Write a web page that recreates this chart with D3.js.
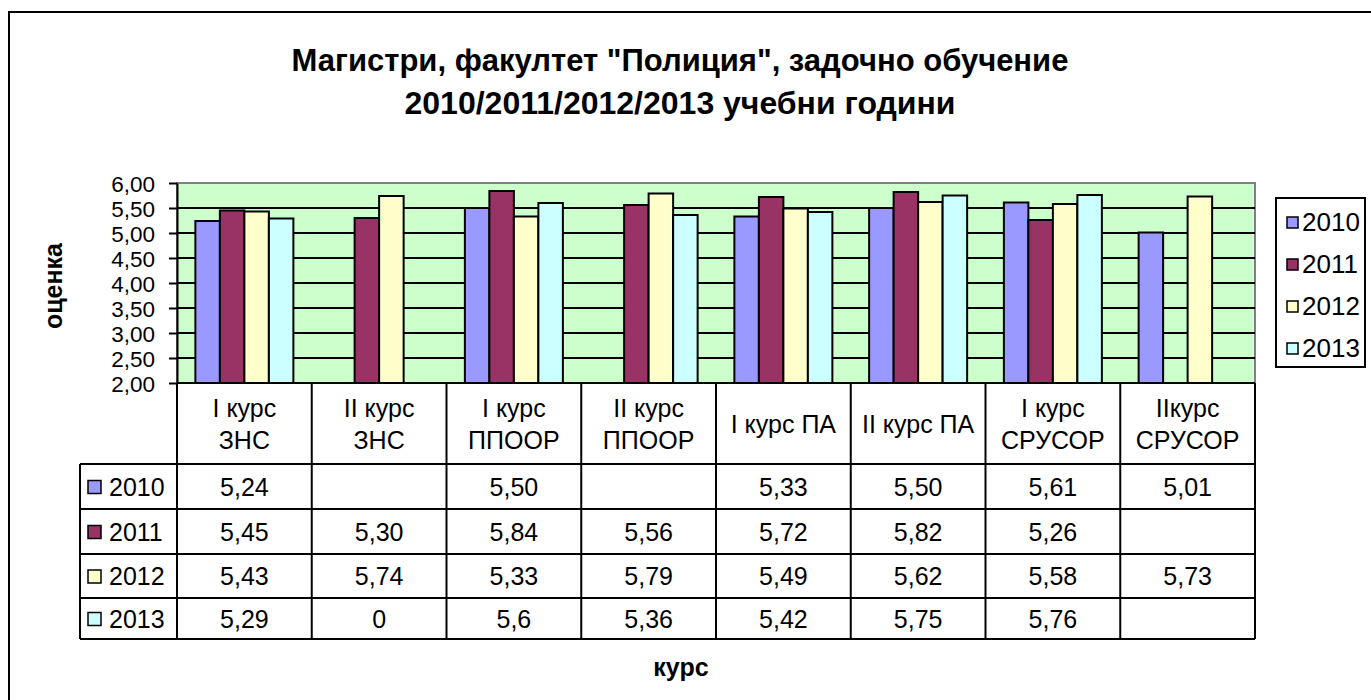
<!DOCTYPE html>
<html><head><meta charset="utf-8">
<script src="https://cdn.jsdelivr.net/npm/d3@7"></script>
<style>body{margin:0;background:#fff}svg{display:block}text{font-family:"Liberation Sans",Arial,sans-serif}</style>
</head><body>
<svg id="c" width="1371" height="700"></svg>
<script>
const categories = ["I курс ЗНС","II курс ЗНС","I курс ППООР","II курс ППООР","I курс ПА","II курс ПА","I курс СРУСОР","IIкурс СРУСОР"];
const categoryLines = [["I курс","ЗНС"],["II курс","ЗНС"],["I курс","ППООР"],["II курс","ППООР"],["I курс ПА"],["II курс ПА"],["I курс","СРУСОР"],["IIкурс","СРУСОР"]];
const seriesNames = ["2010","2011","2012","2013"];
const values2010 = [5.24, null, 5.50, null, 5.33, 5.50, 5.61, 5.01];
const values2011 = [5.45, 5.30, 5.84, 5.56, 5.72, 5.82, 5.26, null];
const values2012 = [5.43, 5.74, 5.33, 5.79, 5.49, 5.62, 5.58, 5.73];
const values2013 = [5.29, 0, 5.6, 5.36, 5.42, 5.75, 5.76, null];
const seriesFormats = ["fixed2","fixed2","fixed2","general"];
const seriesColors = ["#9999FF","#993366","#FFFFCC","#CCFFFF"];
const yTicks = [2.0,2.5,3.0,3.5,4.0,4.5,5.0,5.5,6.0];
const titleLines = ["Магистри, факултет \"Полиция\", задочно обучение","2010/2011/2012/2013 учебни години"];
const yTitle = "оценка";
const xTitle = "курс";

const seriesValues = [values2010, values2011, values2012, values2013];
const svg = d3.select("#c");

// outer chart frame (clipped by the picture)
svg.append("rect").attr("x",9).attr("y",12).attr("width",1400).attr("height",720)
  .attr("fill","#fff").attr("stroke","#000").attr("stroke-width",2);

const L=177, R=1255, T=183, B=383;
const x = d3.scaleBand().domain(categories).range([L,R]).padding(0);
const xs = d3.scaleBand().domain(seriesNames).range([0,x.bandwidth()]).paddingInner(0).paddingOuter(0.75);
const y = d3.scaleLinear().domain([2,6]).range([B,T]);

// title
svg.append("g").selectAll("text").data(titleLines).join("text")
  .attr("x",680).attr("y",(d,i)=>71+i*43).attr("text-anchor","middle")
  .attr("font-size",(d,i)=>i===0?31:32).attr("font-weight","bold").text(d=>d);

// plot area
svg.append("rect").attr("x",L).attr("y",T).attr("width",R-L).attr("height",B-T)
  .attr("fill","#CCFFCC").attr("stroke","#808080").attr("stroke-width",2);
svg.append("g").selectAll("line").data(yTicks.filter(t=>t>2&&t<6)).join("line")
  .attr("x1",L).attr("x2",R).attr("y1",d=>y(d)).attr("y2",d=>y(d))
  .attr("stroke","#000").attr("stroke-width",2);

// bars
const fmt2 = d3.format(".2f");
const fmtVal = (v,i)=> v==null ? "" : (seriesFormats[i]==="fixed2" ? fmt2(v) : String(v)).replace(".",",");
seriesNames.forEach((s,si)=>{
  svg.append("g").selectAll("rect")
    .data(categories.map((c,ci)=>({c,v:seriesValues[si][ci]})).filter(d=>d.v!=null && d.v>2))
    .join("rect")
    .attr("x",d=>x(d.c)+xs(s)).attr("width",xs.bandwidth())
    .attr("y",d=>y(d.v)).attr("height",d=>y(2)-y(d.v))
    .attr("fill",seriesColors[si]).attr("stroke","#000").attr("stroke-width",2);
});

// y axis
const yAxis = d3.axisLeft(y).tickValues(yTicks).tickSize(8).tickSizeOuter(0)
  .tickFormat(d=>fmt2(d).replace(".",","));
const ga = svg.append("g").attr("transform",`translate(${L},0)`).call(yAxis);
ga.select(".domain").attr("stroke","#000").attr("stroke-width",2);
ga.selectAll(".tick line").attr("stroke","#000").attr("stroke-width",2);
ga.selectAll(".tick text").attr("font-size",22.5).attr("fill","#000").attr("x",-22).attr("dy","0.36em")
  .attr("font-family","'Liberation Sans',Arial,sans-serif");

// x axis line
svg.append("line").attr("x1",L).attr("x2",R).attr("y1",B).attr("y2",B).attr("stroke","#000").attr("stroke-width",2);

// data table
const rowLines = [464, 509, 554, 598, 639], keyLeft = 80;
const tableTop = rowLines[0], tableBottom = rowLines[4];
const bounds = categories.map(c=>x(c)).concat([R]);
svg.append("g").selectAll("line").data(bounds).join("line")
  .attr("x1",d=>d).attr("x2",d=>d).attr("y1",B).attr("y2",tableBottom)
  .attr("stroke","#000").attr("stroke-width",2);
svg.append("line").attr("x1",keyLeft).attr("x2",keyLeft).attr("y1",tableTop).attr("y2",tableBottom).attr("stroke","#000").attr("stroke-width",2);
svg.append("g").selectAll("line").data(rowLines).join("line")
  .attr("x1",keyLeft).attr("x2",R).attr("y1",d=>d).attr("y2",d=>d)
  .attr("stroke","#000").attr("stroke-width",2);

// header labels
categories.forEach((c,ci)=>{
  const lines = categoryLines[ci];
  const cy = (B+tableTop)/2;
  svg.append("g").selectAll("text").data(lines).join("text")
    .attr("x",x(c)+x.bandwidth()/2)
    .attr("y",(d,i)=>cy + (i-(lines.length-1)/2)*32)
    .attr("dy","0.36em").attr("text-anchor","middle").attr("font-size",25).text(d=>d);
});

// rows
seriesNames.forEach((s,si)=>{
  const cy = (rowLines[si]+rowLines[si+1])/2;
  svg.append("rect").attr("x",88).attr("y",cy-6).attr("width",13).attr("height",13)
    .attr("fill",seriesColors[si]).attr("stroke","#000").attr("stroke-width",1.5);
  svg.append("text").attr("x",109).attr("y",cy).attr("dy","0.36em").attr("font-size",25).text(s);
  svg.append("g").selectAll("text").data(categories).join("text")
    .attr("x",c=>x(c)+x.bandwidth()/2).attr("y",cy).attr("dy","0.36em")
    .attr("text-anchor","middle").attr("font-size",25)
    .text((c,ci)=>fmtVal(seriesValues[si][ci],si));
});

// axis titles
svg.append("text").attr("transform","translate(62,286) rotate(-90)").attr("text-anchor","middle")
  .attr("font-size",25).attr("font-weight","bold").text(yTitle);
svg.append("text").attr("x",681).attr("y",676).attr("text-anchor","middle")
  .attr("font-size",25).attr("font-weight","bold").text(xTitle);

// legend
const lg = svg.append("g");
lg.append("rect").attr("x",1276).attr("y",198).attr("width",89).attr("height",169)
  .attr("fill","#fff").attr("stroke","#000").attr("stroke-width",2);
seriesNames.forEach((s,si)=>{
  const cy = 222 + si*42;
  lg.append("rect").attr("x",1287).attr("y",cy-5).attr("width",11).attr("height",11)
    .attr("fill",seriesColors[si]).attr("stroke","#000").attr("stroke-width",1.5);
  lg.append("text").attr("x",1302).attr("y",cy).attr("dy","0.36em").attr("font-size",26).text(s);
});
</script>
</body></html>
